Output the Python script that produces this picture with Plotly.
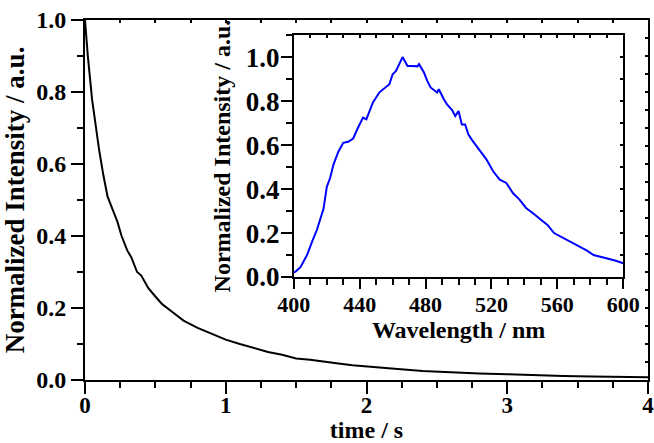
import plotly.graph_objects as go

# decay curve (main plot)
time_s = [0, 0.02, 0.05, 0.08, 0.1, 0.13, 0.16, 0.2, 0.23, 0.26, 0.3, 0.33, 0.37, 0.4,
          0.45, 0.5, 0.55, 0.6, 0.65, 0.7, 0.8, 0.9, 1.0, 1.1, 1.2, 1.3, 1.4, 1.5, 1.6,
          1.7, 1.8, 1.9, 2.0, 2.2, 2.4, 2.6, 2.8, 3.0, 3.2, 3.4, 3.6, 3.8, 4.0]
decay = [1.0, 0.90, 0.78, 0.69, 0.64, 0.57, 0.51, 0.47, 0.44, 0.40, 0.36, 0.34, 0.30, 0.29,
         0.255, 0.232, 0.21, 0.195, 0.18, 0.165, 0.145, 0.128, 0.112, 0.100, 0.088, 0.078,
         0.070, 0.060, 0.056, 0.050, 0.046, 0.041, 0.037, 0.031, 0.025, 0.021, 0.018,
         0.016, 0.013, 0.011, 0.010, 0.0085, 0.0075]

# emission spectrum (inset)
wavelength = [398, 401, 404, 408, 411, 414, 418, 420, 422, 424, 427, 430, 433, 436, 439,
              442, 444, 448, 452, 456, 458, 460, 462, 466, 469, 472, 475, 476, 479, 481,
              483, 487, 488, 491, 493, 496, 498, 500, 502, 504, 506, 508, 511, 514, 517,
              521, 525, 529, 533, 537, 541, 545, 549, 554, 558, 562, 566, 570, 574, 578,
              582, 586, 590, 595, 600]
spectrum = [0.015, 0.025, 0.045, 0.10, 0.16, 0.215, 0.31, 0.41, 0.45, 0.51, 0.57, 0.61,
            0.615, 0.63, 0.68, 0.725, 0.717, 0.794, 0.84, 0.865, 0.877, 0.922, 0.937, 1.0,
            0.96, 0.96, 0.958, 0.968, 0.93, 0.892, 0.862, 0.839, 0.854, 0.81, 0.785, 0.76,
            0.732, 0.755, 0.694, 0.694, 0.648, 0.625, 0.595, 0.565, 0.534, 0.481, 0.443,
            0.428, 0.382, 0.352, 0.314, 0.291, 0.265, 0.237, 0.20, 0.184, 0.169, 0.155,
            0.138, 0.12, 0.10, 0.093, 0.085, 0.075, 0.063]

font_family = "Liberation Serif"


def bold(size):
    return dict(family=font_family, size=size, color="black", weight="bold")


fig = go.Figure()
fig.add_trace(go.Scatter(x=time_s, y=decay, mode="lines",
                         line=dict(color="black", width=2), showlegend=False))
fig.add_trace(go.Scatter(x=wavelength, y=spectrum, mode="lines", xaxis="x2", yaxis="y2",
                         line=dict(color="#0000ff", width=2), showlegend=False))
# helper traces so the mirror-tick axes get drawn
fig.add_trace(go.Scatter(x=[time_s[0]], y=[decay[0]], xaxis="x3", yaxis="y3",
                         mode="markers", opacity=0, showlegend=False, hoverinfo="skip"))
fig.add_trace(go.Scatter(x=[wavelength[0]], y=[spectrum[0]], xaxis="x4", yaxis="y4",
                         mode="markers", opacity=0, showlegend=False, hoverinfo="skip"))

axis_common = dict(showline=True, linecolor="black", linewidth=2, showgrid=False,
                   zeroline=False, ticks="outside", tickcolor="black", tickwidth=2,
                   automargin=False, ticklabeloverflow="allow")
mirror_common = dict(showline=True, linecolor="black", linewidth=2, ticks="inside",
                     ticklen=3, tickwidth=1.5, tickcolor="black", showticklabels=False,
                     showgrid=False, zeroline=False, automargin=False)


def minor(step, length=6):
    return dict(dtick=step, ticklen=length, tickwidth=2, tickcolor="black", ticks="outside")


fig.update_layout(
    width=654, height=443,
    margin=dict(l=85, r=6, t=20, b=63),
    paper_bgcolor="white", plot_bgcolor="white",
    xaxis=dict(axis_common, range=[0, 4], dtick=1, ticklen=12, minor=minor(0.25),
               tickfont=bold(23), ticklabelstandoff=-9,
               title=dict(text="time / s", font=bold(24), standoff=4)),
    yaxis=dict(axis_common, range=[0, 1.0], dtick=0.2, ticklen=12, tickformat=".1f",
               minor=minor(0.1), tickfont=bold(24),
               title=dict(text="Normalized Intensity / a.u.", font=bold(27), standoff=5)),
    xaxis3=dict(mirror_common, overlaying="x", side="top", anchor="y3", range=[0, 4],
                dtick=0.25),
    yaxis3=dict(mirror_common, overlaying="y", side="right", anchor="x3", range=[0, 1.0],
                dtick=0.05),
    xaxis2=dict(axis_common, domain=[0.371, 0.956], anchor="y2", range=[400, 600], dtick=40,
                ticklen=10, minor=minor(10), tickfont=bold(22), ticklabelstandoff=-3,
                title=dict(text="Wavelength / nm", font=bold(24), standoff=0)),
    yaxis2=dict(axis_common, domain=[0.286, 0.958], anchor="x2", range=[0, 1.1], dtick=0.2,
                ticklen=11, tickformat=".1f", minor=minor(0.1), tickfont=bold(27),
                ticklabelstandoff=-4,
                title=dict(text="Normalized Intensity / a.u.", font=bold(24), standoff=8)),
    xaxis4=dict(mirror_common, overlaying="x2", side="top", anchor="y4", range=[400, 600],
                dtick=10),
    yaxis4=dict(mirror_common, overlaying="y2", side="right", anchor="x4", range=[0, 1.1],
                dtick=0.1),
)

# drop the page's default body margin so the figure sits at the window's corner
fig.write_html("out.html", config={"displayModeBar": False},
               post_script="document.body.style.margin = '0px';")
